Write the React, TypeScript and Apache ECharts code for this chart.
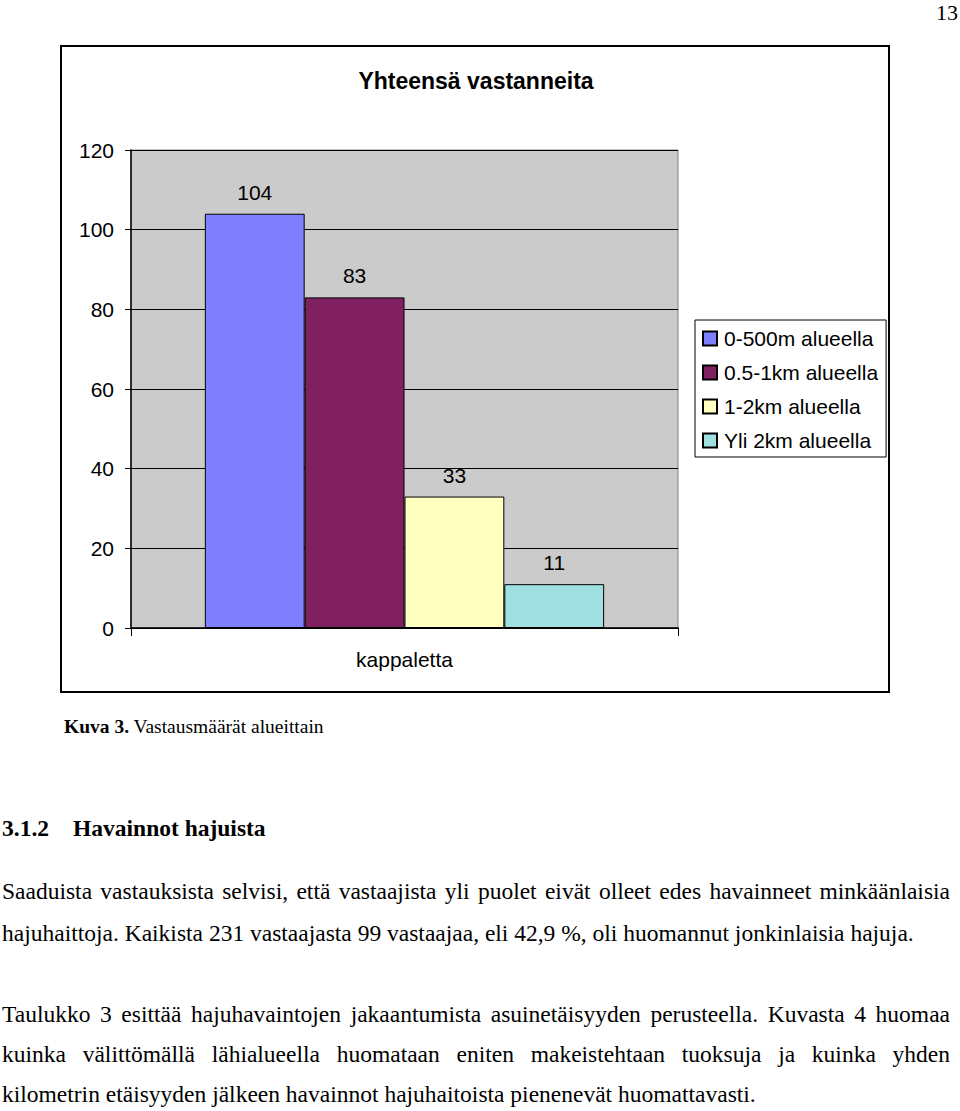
import React, { useEffect, useRef } from "react";
import * as echarts from "echarts";

const categories = ["kappaletta"];
const seriesNames = ["0-500m alueella", "0.5-1km alueella", "1-2km alueella", "Yli 2km alueella"];
const seriesValues = [104, 83, 33, 11];
const seriesColors = ["#8080ff", "#802060", "#ffffc0", "#a0e0e0"];
const chartTitle = "Yhteensä vastanneita";
const yMin = 0;
const yMax = 120;
const yStep = 20;

const pageNumber = "13";
const captionBold = "Kuva 3.";
const captionRest = " Vastausmäärät alueittain";
const headingNumber = "3.1.2";
const headingText = "Havainnot hajuista";
const paragraphLines = [
  { text: "Saaduista vastauksista selvisi, että vastaajista yli puolet eivät olleet edes havainneet minkäänlaisia", justify: true },
  { text: "hajuhaittoja. Kaikista 231 vastaajasta 99 vastaajaa, eli 42,9 %, oli huomannut jonkinlaisia hajuja.", justify: false },
  { text: "Taulukko 3 esittää hajuhavaintojen jakaantumista asuinetäisyyden perusteella. Kuvasta 4 huomaa", justify: true },
  { text: "kuinka välittömällä lähialueella huomataan eniten makeistehtaan tuoksuja ja kuinka yhden", justify: true },
  { text: "kilometrin etäisyyden jälkeen havainnot hajuhaitoista pienenevät huomattavasti.", justify: false },
];
const lineCenters = [891, 933, 1014, 1054, 1094];

const SANS = '"Liberation Sans", Arial, sans-serif';
const SERIF = '"Liberation Serif", "Times New Roman", serif';

function Chart() {
  const ref = useRef<HTMLDivElement>(null);
  useEffect(() => {
    if (!ref.current) return;
    const chart = echarts.init(ref.current, null, { renderer: "svg" });
    chart.setOption({
      animation: false,
      backgroundColor: "#ffffff",
      textStyle: { fontFamily: SANS },
      graphic: [
        {
          type: "rect",
          shape: { x: 61, y: 46, width: 828, height: 646 },
          style: { fill: "none", stroke: "#000", lineWidth: 2 },
          z: 0,
        },
        {
          type: "text",
          x: 476,
          y: 81,
          style: {
            text: chartTitle,
            align: "center",
            verticalAlign: "middle",
            fontFamily: SANS,
            fontWeight: "bold",
            fontSize: 23,
            fill: "#000",
          },
        },
      ],
      legend: {
        orient: "vertical",
        left: 695,
        top: 320,
        data: seriesNames,
        icon: "rect",
        itemWidth: 14,
        itemHeight: 14,
        itemGap: 13,
        padding: [8, 8, 6, 7],
        borderColor: "#000",
        borderWidth: 1,
        backgroundColor: "#fff",
        textStyle: { fontFamily: SANS, fontSize: 21, lineHeight: 21, color: "#000", padding: [0, 0, 0, 2] },
      },
      grid: {
        left: 131,
        top: 150,
        width: 547,
        height: 478,
        show: true,
        backgroundColor: "#cbcbcb",
        borderColor: "#808080",
        borderWidth: 1,
      },
      xAxis: {
        type: "category",
        data: categories,
        axisLine: { show: true, lineStyle: { color: "#000", width: 1.5 } },
        axisTick: { show: true, length: 8, lineStyle: { color: "#000" } },
        axisLabel: { fontFamily: SANS, fontSize: 21, color: "#000", margin: 21 },
        splitLine: { show: false },
      },
      yAxis: {
        type: "value",
        min: yMin,
        max: yMax,
        interval: yStep,
        axisLine: { show: true, lineStyle: { color: "#000", width: 1.5 } },
        axisTick: { show: true, length: 6, lineStyle: { color: "#000" } },
        axisLabel: { fontFamily: SANS, fontSize: 21, color: "#000", margin: 17 },
        splitLine: { show: true, lineStyle: { color: "#000", width: 1 } },
      },
      series: seriesNames.map((name, i) => ({
        name,
        type: "bar",
        data: [seriesValues[i]],
        barGap: "0%",
        barCategoryGap: "27%",
        itemStyle: { color: seriesColors[i], borderColor: "#000", borderWidth: 1 },
        label: {
          show: true,
          position: "top",
          distance: 11,
          fontFamily: SANS,
          fontSize: 21,
          color: "#000",
        },
      })),
    });
    return () => chart.dispose();
  }, []);
  return <div ref={ref} style={{ position: "absolute", left: 0, top: 0, width: 960, height: 700 }} />;
}

export default function App() {
  const lineH = 30;
  return (
    <div style={{ position: "absolute", left: 0, top: 0, width: 960, height: 1111, background: "#fff", overflow: "hidden" }}>
      <Chart />
      <div style={{ position: "absolute", right: 2, top: 13 - lineH / 2, lineHeight: lineH + "px", fontFamily: SERIF, fontSize: 22, color: "#000" }}>
        {pageNumber}
      </div>
      <div style={{ position: "absolute", left: 64, top: 727 - lineH / 2, lineHeight: lineH + "px", fontFamily: SERIF, fontSize: 19.5, color: "#000", whiteSpace: "pre" }}>
        <b>{captionBold}</b>
        {captionRest}
      </div>
      <div style={{ position: "absolute", left: 2, top: 828 - lineH / 2, lineHeight: lineH + "px", fontFamily: SERIF, fontSize: 23.5, fontWeight: "bold", color: "#000", whiteSpace: "pre" }}>
        <span>{headingNumber}</span>
        <span style={{ position: "absolute", left: 71 }}>{headingText}</span>
      </div>
      {paragraphLines.map((l, i) => (
        <div
          key={i}
          style={{
            position: "absolute",
            left: 2,
            top: lineCenters[i] - lineH / 2,
            width: 948,
            lineHeight: lineH + "px",
            fontFamily: SERIF,
            fontSize: 23.5,
            color: "#000",
            textAlign: l.justify ? "justify" : "left",
            textAlignLast: l.justify ? "justify" : "left",
          }}
        >
          {l.text}
        </div>
      ))}
    </div>
  );
}
